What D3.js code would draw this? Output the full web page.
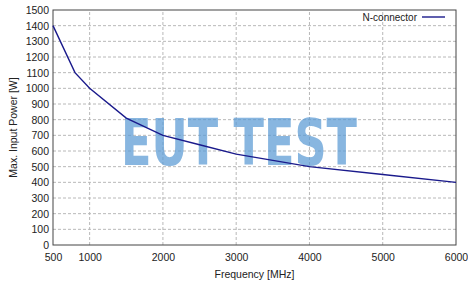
<!DOCTYPE html>
<html>
<head>
<meta charset="utf-8">
<script src="https://cdn.jsdelivr.net/npm/d3@7"></script>
<style>
  body { margin: 0; background: #fff; }
  svg { display: block; font-family: "Liberation Sans", Arial, sans-serif; }
</style>
</head>
<body>
<div id="chart"></div>
<script>
// data
let freq  = [500, 800, 1000, 1500, 2000, 2500, 3000, 3500, 4000, 5000, 6000];
let power = [1400, 1100, 1000, 810, 700, 640, 580, 540, 500, 450, 400];
let xTicks = [500, 1000, 2000, 3000, 4000, 5000, 6000];
let yTicks = d3.range(0, 1501, 100);
let seriesName = "N-connector";

let width = 468, height = 286;
let margin = {top: 10, right: 12, bottom: 41, left: 53};

let svg = d3.select("#chart").append("svg")
  .attr("width", width)
  .attr("height", height);

let x = d3.scaleLinear().domain([500, 6000]).range([margin.left, width - margin.right]);
let y = d3.scaleLinear().domain([0, 1500]).range([height - margin.bottom, margin.top]);

// grid
svg.append("g")
  .selectAll("line.gx")
  .data(xTicks.slice(1, -1))
  .enter().append("line")
  .attr("x1", d => x(d)).attr("x2", d => x(d))
  .attr("y1", y(0)).attr("y2", y(1500))
  .attr("stroke", "#b8b8b8").attr("stroke-dasharray", "3,2").attr("stroke-width", 1);

svg.append("g")
  .selectAll("line.gy")
  .data(yTicks.slice(1, -1))
  .enter().append("line")
  .attr("x1", x(500)).attr("x2", x(6000))
  .attr("y1", d => y(d)).attr("y2", d => y(d))
  .attr("stroke", "#b8b8b8").attr("stroke-dasharray", "3,2").attr("stroke-width", 1);

// watermark
svg.append("text")
  .attr("x", 121).attr("y", 165)
  .attr("textLength", 236)
  .attr("lengthAdjust", "spacingAndGlyphs")
  .style("font-family", "'DejaVu Sans Condensed', 'DejaVu Sans', sans-serif")
  .style("font-weight", "bold")
  .style("font-size", "64px")
  .attr("fill", "rgb(91,155,213)")
  .attr("opacity", 0.72)
  .text("EUT TEST");

// frame
svg.append("rect")
  .attr("x", x(500)).attr("y", y(1500))
  .attr("width", x(6000) - x(500)).attr("height", y(0) - y(1500))
  .attr("fill", "none").attr("stroke", "#444").attr("stroke-width", 1);

// axes
let fmt = d3.format("d");
let xAxis = svg.append("g")
  .attr("transform", "translate(0," + y(0) + ")")
  .call(d3.axisBottom(x).tickValues(xTicks).tickFormat(fmt).tickSize(0).tickPadding(9));
let yAxis = svg.append("g")
  .attr("transform", "translate(" + x(500) + ",0)")
  .call(d3.axisLeft(y).tickValues(yTicks).tickFormat(fmt).tickSize(0).tickPadding(4));
[xAxis, yAxis].forEach(a => {
  a.select(".domain").remove();
  a.selectAll("text").style("font-size", "10.5px").attr("fill", "#222")
    .style("font-family", "'Liberation Sans', Arial, sans-serif");
});

// line
let line = d3.line()
  .x((d, i) => x(freq[i]))
  .y(d => y(d));

svg.append("path")
  .datum(power)
  .attr("d", line)
  .attr("fill", "none")
  .attr("stroke", "#1a1a8c")
  .attr("stroke-width", 1.4);

// legend
svg.append("text")
  .attr("x", 417).attr("y", 21)
  .attr("text-anchor", "end")
  .style("font-size", "10px")
  .attr("fill", "#222")
  .text(seriesName);
svg.append("line")
  .attr("x1", 422).attr("x2", 445)
  .attr("y1", 17).attr("y2", 17)
  .attr("stroke", "#1a1a8c").attr("stroke-width", 1.4);

// axis titles
svg.append("text")
  .attr("x", (x(500) + x(6000)) / 2).attr("y", 278)
  .attr("text-anchor", "middle")
  .style("font-size", "10.5px")
  .attr("fill", "#222")
  .text("Frequency [MHz]");

svg.append("text")
  .attr("transform", "translate(17," + (y(0) + y(1500)) / 2 + ") rotate(-90)")
  .attr("text-anchor", "middle")
  .style("font-size", "10.5px")
  .attr("fill", "#222")
  .text("Max. Input Power [W]");
</script>
</body>
</html>
